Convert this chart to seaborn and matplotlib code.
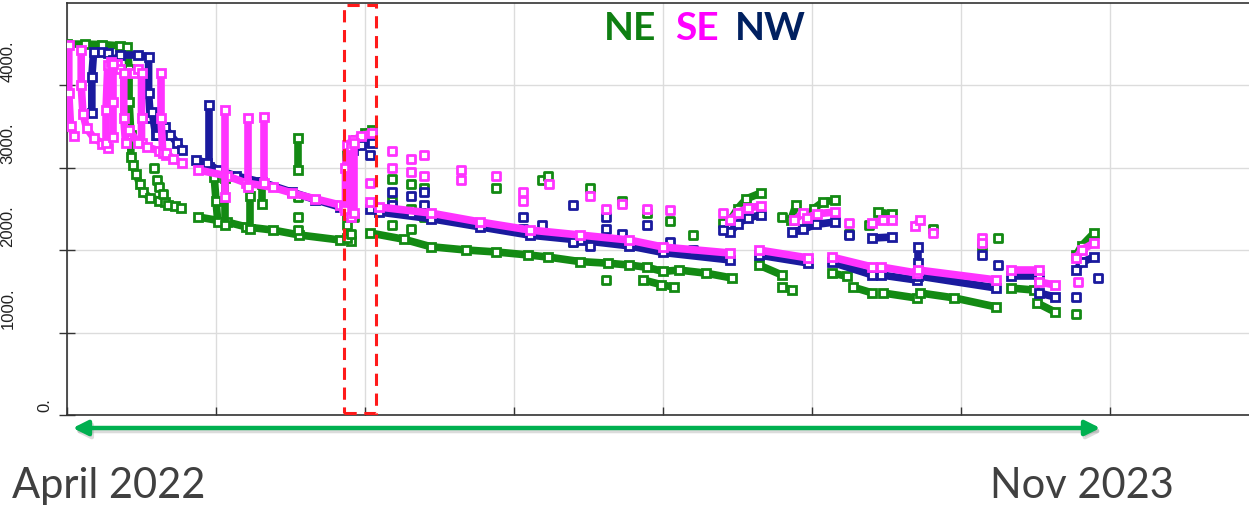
import matplotlib
matplotlib.use("Agg")
import matplotlib.pyplot as plt
from matplotlib.patches import Rectangle, FancyArrowPatch
import pandas as pd
import seaborn as sns

# ---- data: (day since start, value) ----
ne_runs = [
    [(0, 4497), (10, 4495), (20, 4490), (30, 4475), (34, 4460), (35, 4200), (35, 3800), (36, 3400), (36, 3127)],
    [(37, 3030), (39, 2920), (41, 2800), (43, 2700), (47, 2630), (52, 2600), (55, 2580)],
    [(57, 2550), (61, 2530), (64, 2510)],
    [(74, 2400), (90, 2340), (101, 2280), (116, 2242), (131, 2182), (154, 2121), (160, 2110)],
    [(83, 2880), (84, 2600), (85, 2340)],
    [(89, 2870), (89, 2300)],
    [(103, 2660), (103, 2250)],
    [(110, 2800), (110, 2560)],
    [(130, 3357), (130, 2970)],
    [(158, 2420), (158, 2150)],
    [(158, 3150), (163, 3330), (168, 3420), (172, 3454)],
    [(171, 2206), (190, 2130), (205, 2040), (225, 2000), (242, 1976), (260, 1940), (271, 1915), (289, 1860),
     (305, 1840), (317, 1818), (327, 1790), (336, 1740), (345, 1757), (360, 1720), (375, 1660)],
    [(325, 1636), (335, 1580), (342, 1550)],
    [(374, 2363), (378, 2500), (383, 2620), (391, 2690)],
    [(390, 1818), (403, 1697)],
    [(403, 1551), (409, 1515)],
    [(408, 2363), (411, 2545)],
    [(417, 2363), (421, 2500), (426, 2580), (433, 2606)],
    [(431, 1721), (440, 1680)],
    [(443, 1551), (454, 1479)],
    [(457, 2460), (465, 2436)],
    [(460, 1479), (479, 1418)],
    [(481, 1479), (500, 1420), (524, 1309)],
    [(532, 1539), (545, 1515)],
    [(547, 1357), (557, 1248)],
    [(569, 1939), (572, 2050), (579, 2206)],
]
ne_dots = [(49, 3000), (51, 2850), (52, 2760), (54, 2680), (130, 2640), (130, 2400), (130, 2240),
           (183, 2860), (183, 2600), (183, 2300), (194, 2800), (194, 2500), (194, 2250), (201, 2750),
           (201, 2400), (242, 2750), (268, 2850), (271, 2900), (285, 2100), (295, 2750), (304, 1636),
           (313, 2600), (327, 2450), (340, 2350), (353, 2180), (370, 2327), (403, 2400), (441, 2200),
           (452, 2300), (488, 2250), (525, 2150), (516, 2050), (569, 1224), (158, 2300), (160, 2200),
           (162, 2400)]

se_runs = [
    [(1, 4484), (1, 3900), (2, 3500), (4, 3380)],
    [(8, 4420), (8, 4000), (9, 3650), (11, 3480), (15, 3360), (20, 3290), (23, 3240)],
    [(22, 3300), (22, 3700), (23, 4240), (25, 4280), (28, 4250), (30, 4200), (32, 4150), (32, 3600), (33, 3300)],
    [(26, 4260), (26, 3800), (26, 3369)],
    [(38, 4150), (40, 4200), (42, 4150), (42, 3600), (42, 3300)],
    [(35, 3454), (40, 3300), (45, 3250), (52, 3200), (56, 3150)],
    [(53, 4145), (53, 3600), (54, 3175)],
    [(56, 3175), (60, 3100), (65, 3054)],
    [(74, 2969), (90, 2900), (101, 2812), (116, 2760), (127, 2690), (140, 2620), (154, 2545), (156, 2520)],
    [(89, 3697), (89, 2642)],
    [(102, 3600), (102, 2763)],
    [(111, 3612), (111, 2812)],
    [(157, 2485), (157, 3000), (158, 3272), (161, 3330), (166, 3380), (172, 3420)],
    [(160, 2400), (160, 3250)],
    [(162, 2450), (162, 3300)],
    [(171, 2580), (176, 2521), (205, 2448), (233, 2339), (261, 2242), (289, 2182), (317, 2121),
     (336, 2036), (374, 1963)],
    [(374, 2363), (378, 2450), (384, 2510), (391, 2533)],
    [(390, 2000), (418, 1903)],
    [(410, 2360), (415, 2448)],
    [(417, 2390), (423, 2440), (433, 2460)],
    [(431, 1915), (454, 1794)],
    [(454, 2327), (460, 2360), (465, 2363)],
    [(459, 1794), (479, 1721)],
    [(478, 2290), (481, 2363)],
    [(480, 1757), (524, 1636)],
    [(532, 1757), (548, 1757)],
    [(548, 1612), (557, 1576)],
    [(569, 1903), (572, 2000), (579, 2085)],
]
se_dots = [(183, 3200), (183, 3000), (194, 3100), (194, 2950), (201, 3150), (201, 2900), (222, 2970),
           (222, 2850), (242, 2900), (257, 2700), (257, 2600), (272, 2800), (295, 2650), (304, 2500),
           (313, 2560), (327, 2500), (340, 2480), (370, 2448), (441, 2327), (488, 2206), (516, 2140),
           (516, 2080), (570, 1612), (171, 2812)]

nw_runs = [
    [(14, 3660), (14, 4100), (15, 4400), (20, 4400), (23, 4390)],
    [(26, 4300), (30, 4363), (40, 4363), (46, 4340), (46, 3900), (47, 3600)],
    [(48, 3672), (50, 3400), (51, 3394)],
    [(55, 3491), (58, 3400), (62, 3300), (65, 3212)],
    [(80, 3757), (80, 3006)],
    [(73, 3091), (79, 3054), (85, 2969), (95, 2900), (110, 2820), (127, 2700), (140, 2610), (154, 2520)],
    [(161, 3212), (166, 3270), (172, 3297)],
    [(171, 2500), (176, 2460), (205, 2380), (233, 2280), (261, 2180), (289, 2120), (317, 2050),
     (336, 1970), (374, 1879)],
    [(374, 2218), (378, 2320), (384, 2390), (391, 2424)],
    [(390, 1939), (418, 1842)],
    [(409, 2218), (415, 2250), (422, 2310), (433, 2339)],
    [(431, 1854), (454, 1697)],
    [(454, 2145), (465, 2157)],
    [(459, 1697), (479, 1636)],
    [(480, 2036), (480, 1842)],
    [(480, 1685), (524, 1539)],
    [(532, 1685), (548, 1685)],
    [(548, 1479), (557, 1430)],
    [(569, 1757), (572, 1850), (579, 1915)],
]
nw_dots = [(183, 2700), (183, 2550), (194, 2650), (194, 2450), (201, 2700), (201, 2550), (257, 2400),
           (257, 2250), (268, 2300), (285, 2550), (285, 2100), (295, 2050), (304, 2400), (304, 2250),
           (313, 2200), (327, 2300), (340, 2100), (353, 2000), (370, 2242), (441, 2182), (516, 1939),
           (525, 1818), (569, 1430), (581, 1660), (171, 3150)]

series_names = ["NE", "SE", "NW"]
series_colors = {"NE": "#138a13", "SE": "#ff33ff", "NW": "#1a1a9e"}
label_colors = {"NE": "#0f7f12", "SE": "#ff00ff", "NW": "#002060"}
y_ticks = [0, 1000, 2000, 3000, 4000]
y_tick_labels = ["0.", "1000.", "2000.", "3000.", "4000."]
x_tick_step = 84
highlight_days = (156.3, 174.3)
span_start_label = "April 2022"
span_end_label = "Nov 2023"


def runs_frame(runs):
    rows = []
    for rid, run in enumerate(runs):
        for d, v in run:
            rows.append({"run": rid, "day": d, "value": v})
    return pd.DataFrame(rows)


def dots_frame(dots):
    return pd.DataFrame(dots, columns=["day", "value"])


sns.set_theme(style="white")
plt.rcParams["font.family"] = ["Liberation Sans", "DejaVu Sans"]

fig = plt.figure(figsize=(12.49, 5.08), dpi=100)
ax = fig.add_axes([67 / 1249, 93 / 508, 1182 / 1249, 412.5 / 508])

data = {"NE": (ne_runs, ne_dots), "NW": (nw_runs, nw_dots), "SE": (se_runs, se_dots)}
for name in ["NE", "NW", "SE"]:
    runs, dots = data[name]
    c = series_colors[name]
    sns.lineplot(data=runs_frame(runs), x="day", y="value", units="run", estimator=None, sort=False,
                 color=c, lw=5.5, marker="s", markersize=5.5, markerfacecolor="white",
                 markeredgecolor=c, markeredgewidth=2.0, ax=ax, legend=False, zorder=3)
    sns.scatterplot(data=dots_frame(dots), x="day", y="value", marker="s", s=34, color="white",
                    edgecolor=c, linewidth=2.0, ax=ax, legend=False, zorder=3)

ax.set_xlim(0, 1182 / 149 * x_tick_step)
ax.set_ylim(0, 5000)
ax.set_xticks([x_tick_step * i for i in range(8)])
ax.set_xticklabels([])
ax.set_yticks(y_ticks)
ax.set_yticklabels([])
ax.set_xlabel("")
ax.set_ylabel("")
ax.set_axisbelow(True)
ax.grid(True, color="#dcdcdc", lw=1)
for side in ["left", "top", "bottom"]:
    ax.spines[side].set_visible(True)
    ax.spines[side].set_color("#333333")
    ax.spines[side].set_linewidth(1.2)
ax.spines["right"].set_visible(False)
ax.tick_params(axis="y", direction="inout", length=11.5, width=1, color="#333333", left=True)
ax.tick_params(axis="x", direction="in", length=6, width=1, color="#333333", bottom=True)

ytrans = ax.get_yaxis_transform()
for val, lab in zip(y_ticks, y_tick_labels):
    xpos = -0.0186 if val == 0 else -0.0500
    ax.text(xpos, val + 40, lab, transform=ytrans, rotation=90, ha="center", va="bottom",
            fontsize=12, color="#222222", clip_on=False)

# highlighted window
ax.add_patch(Rectangle((highlight_days[0], 20), highlight_days[1] - highlight_days[0], 4950,
                       fill=False, edgecolor="#ff1a1a", lw=2.2, ls=(0, (4, 2.5)), zorder=5, clip_on=False))

# series names as coloured title words
name_x = {"NE": 604, "SE": 675, "NW": 735}
for name in series_names:
    fig.text(name_x[name] / 1249, 1 - 40 / 508, name, color=label_colors[name], fontsize=28,
             fontweight="bold", family=["Lato", "DejaVu Sans"], ha="left", va="baseline")

# time span arrow with soft shadow
ay = 1 - 428 / 508
for dx, dy, col, a in [(0.0015, -0.006, "#9a9a9a", 0.35), (0, 0, "#00b050", 1.0)]:
    fig.patches.append(FancyArrowPatch(
        (70 / 1249 + dx, ay + dy), (1103 / 1249 + dx, ay + dy), transform=fig.transFigure,
        arrowstyle="<|-|>", mutation_scale=22, lw=3.2, color=col, alpha=a))

fig.text(12 / 1249, 1 - 498 / 508, span_start_label, fontsize=30, color="#404040",
         family=["Lato", "DejaVu Sans"], ha="left", va="baseline")
fig.text(990 / 1249, 1 - 498 / 508, span_end_label, fontsize=30, color="#404040",
         family=["Lato", "DejaVu Sans"], ha="left", va="baseline")

fig.savefig("out.png", dpi=100)
